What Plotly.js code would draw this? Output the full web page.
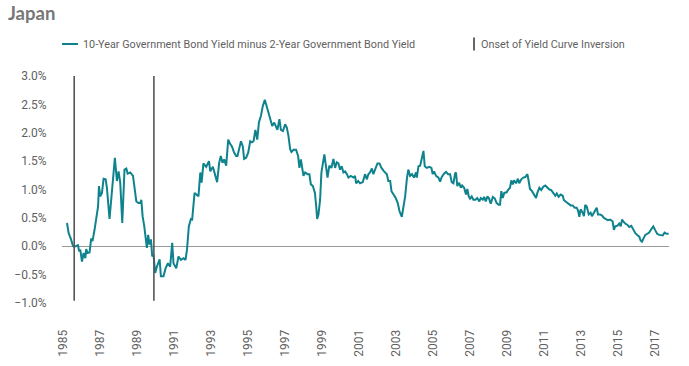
<!DOCTYPE html>
<html>
<head>
<meta charset="utf-8">
<script src="https://cdn.plot.ly/plotly-3.0.1.min.js"></script>
<style>html,body{margin:0;padding:0;background:#fff;}#chart{width:689px;height:366px;}</style>
</head>
<body>
<div id="chart"></div>
<script>
// Decimal-year dates of the readings
const years = [
1985.20,1985.29,1985.42,1985.52,1985.59,1985.70,1985.79,1985.86,1985.92,1986.01,1986.10,1986.19,1986.24,1986.31,1986.42,1986.51,1986.58,1986.69,1986.78,1986.88,1986.93,
1987.00,1987.09,1987.18,1987.29,1987.36,1987.50,1987.58,1987.69,1987.79,1987.90,1987.99,1988.08,1988.19,1988.31,1988.41,1988.48,1988.62,1988.77,1988.85,1988.95,
1989.07,1989.16,1989.22,1989.29,1989.38,1989.47,1989.52,1989.59,1989.66,1989.74,1989.81,1989.88,1989.97,1990.06,1990.21,1990.28,1990.42,1990.53,1990.66,1990.78,1990.89,1990.96,
1991.11,1991.23,1991.36,1991.50,1991.61,1991.69,1991.79,1991.90,1991.97,1992.10,1992.23,1992.31,1992.41,1992.48,1992.58,1992.73,1992.88,1992.95,
1993.09,1993.22,1993.32,1993.43,1993.52,1993.61,1993.70,1993.81,1993.92,1994.03,1994.12,1994.24,1994.35,1994.42,1994.53,1994.61,1994.71,1994.78,1994.89,
1995.00,1995.11,1995.20,1995.29,1995.39,1995.49,1995.58,1995.69,1995.79,1995.90,1996.01,1996.12,1996.23,1996.30,1996.41,1996.51,1996.58,1996.69,1996.77,1996.88,
1997.00,1997.09,1997.18,1997.27,1997.34,1997.45,1997.59,1997.70,1997.77,1997.85,1997.92,1997.99,1998.08,1998.21,1998.31,1998.39,1998.50,1998.61,1998.68,1998.73,1998.80,1998.89,1998.96,
1999.07,1999.12,1999.22,1999.29,1999.39,1999.50,1999.61,1999.70,1999.79,1999.88,1999.97,2000.06,2000.15,2000.24,2000.34,2000.42,2000.55,2000.69,2000.78,2000.84,2000.95,
2001.05,2001.20,2001.32,2001.42,2001.50,2001.59,2001.69,2001.77,2001.88,2001.99,2002.10,2002.21,2002.35,2002.50,2002.58,2002.68,2002.75,2002.86,2002.98,
2003.09,2003.18,2003.31,2003.39,2003.49,2003.58,2003.66,2003.76,2003.86,2003.97,2004.08,2004.12,2004.21,2004.30,2004.39,2004.48,2004.55,2004.66,2004.80,2004.91,2004.98,
2005.05,2005.16,2005.29,2005.38,2005.47,2005.59,2005.70,2005.81,2005.92,2006.01,2006.10,2006.19,2006.24,2006.31,2006.41,2006.50,2006.57,2006.68,2006.78,2006.85,2006.93,
2007.00,2007.09,2007.18,2007.29,2007.39,2007.50,2007.58,2007.69,2007.76,2007.85,2007.94,2008.03,2008.12,2008.23,2008.34,2008.44,2008.55,2008.62,2008.69,2008.77,2008.85,2008.98,
2009.07,2009.16,2009.23,2009.31,2009.38,2009.49,2009.59,2009.66,2009.77,2009.88,2009.99,2010.10,2010.17,2010.24,2010.35,2010.46,2010.57,2010.64,2010.75,2010.85,2010.96,
2011.07,2011.18,2011.29,2011.39,2011.50,2011.61,2011.69,2011.79,2011.90,2012.01,2012.08,2012.19,2012.31,2012.44,2012.55,2012.66,2012.77,2012.84,2012.91,2012.98,
2013.09,2013.16,2013.23,2013.31,2013.42,2013.52,2013.59,2013.70,2013.77,2013.85,2013.92,2014.03,2014.14,2014.24,2014.35,2014.46,2014.57,2014.64,2014.71,2014.78,2014.85,2014.96,
2015.07,2015.15,2015.22,2015.29,2015.39,2015.50,2015.61,2015.72,2015.83,2015.94,2016.04,2016.15,2016.23,2016.30,2016.37,2016.48,2016.58,2016.69,2016.80,2016.91,
2017.02,2017.12,2017.23,2017.34,2017.42,2017.52,2017.63,2017.74
];
// 10-year minus 2-year JGB yield, percent
const spread = [
0.41,0.23,0.12,0.01,-0.01,0.00,0.02,-0.09,-0.06,-0.27,-0.12,-0.21,-0.05,-0.12,-0.11,0.14,0.09,0.29,0.47,0.70,1.06,
0.88,0.94,1.19,1.18,1.03,0.48,0.82,1.24,1.56,1.15,1.32,1.12,0.41,1.35,1.37,1.28,1.30,1.24,1.06,0.79,
0.76,0.76,0.82,0.53,0.35,0.12,-0.03,0.20,0.03,0.12,-0.18,-0.15,-0.47,-0.36,-0.23,-0.53,-0.53,-0.39,-0.30,-0.36,0.06,-0.30,
-0.39,-0.18,-0.24,-0.21,-0.24,-0.06,0.35,0.48,0.47,0.94,0.91,0.88,1.30,1.12,1.46,1.40,1.50,1.32,
1.40,1.24,1.13,1.47,1.59,1.47,1.53,1.42,1.88,1.80,1.76,1.65,1.59,1.59,1.77,1.85,1.76,1.54,1.56,
1.65,1.85,1.83,1.85,2.05,1.88,2.18,2.30,2.47,2.58,2.45,2.29,2.18,2.12,2.18,2.12,2.05,2.24,2.05,2.03,
2.15,2.09,1.94,1.71,1.66,1.70,1.70,1.59,1.38,1.53,1.38,1.24,1.30,1.27,1.27,1.09,1.06,0.94,0.70,0.48,0.56,0.82,1.30,
1.59,1.62,1.38,1.21,1.42,1.38,1.54,1.38,1.48,1.46,1.35,1.41,1.30,1.32,1.27,1.21,1.24,1.21,1.24,1.11,1.15,
1.11,1.13,1.27,1.18,1.27,1.30,1.37,1.27,1.35,1.46,1.46,1.38,1.32,1.27,1.15,1.15,0.97,0.91,0.85,
0.76,0.62,0.52,0.70,0.88,1.18,1.35,1.24,1.27,1.21,1.30,1.21,1.41,1.42,1.56,1.68,1.41,1.38,1.40,1.38,1.27,
1.32,1.24,1.21,1.14,1.22,1.28,1.31,1.27,1.27,1.13,1.11,1.28,1.30,1.06,1.12,1.03,1.07,1.03,0.91,1.01,0.88,
0.84,0.88,0.82,0.82,0.85,0.79,0.85,0.82,0.87,0.79,0.88,0.84,0.75,0.87,0.84,0.76,0.73,0.73,0.97,0.85,0.94,0.95,
1.00,1.03,1.16,1.09,1.16,1.11,1.19,1.11,1.18,1.21,1.22,1.27,1.15,1.01,0.97,0.91,0.85,0.94,1.03,0.99,1.05,
1.07,1.03,1.00,0.99,0.94,0.89,0.93,0.87,0.91,0.89,0.81,0.78,0.75,0.72,0.72,0.68,0.68,0.63,0.52,0.65,
0.59,0.53,0.73,0.70,0.56,0.59,0.53,0.59,0.65,0.68,0.56,0.56,0.54,0.50,0.48,0.46,0.47,0.46,0.44,0.29,0.35,0.36,
0.40,0.35,0.47,0.44,0.40,0.38,0.34,0.36,0.28,0.23,0.20,0.17,0.10,0.08,0.13,0.20,0.22,0.24,0.30,0.35,
0.28,0.22,0.20,0.20,0.19,0.24,0.22,0.22
];
// Onset of yield curve inversion (decimal years)
const inversionOnsets = [1985.59, 1989.90];
const xTickYears = [1985,1987,1989,1991,1993,1995,1997,1999,2001,2003,2005,2007,2009,2011,2013,2015,2017];
const yTicks = [-1.0,-0.5,0.0,0.5,1.0,1.5,2.0,2.5,3.0];
const seriesName = '10-Year Government Bond Yield minus 2-Year Government Bond Yield';
const onsetName = 'Onset of Yield Curve Inversion';

const W = 689, H = 366;
const M = {l: 62, r: 20, t: 76, b: 63};
const PW = W - M.l - M.r, PH = H - M.t - M.b;
const px = x => (x - M.l) / PW;
const py = y => (H - M.b - y) / PH;

const LINE = '#0f838d';
const GREY = '#5f5f5f';
const FONT = 'Roboto, sans-serif';

const trace = {
  x: years, y: spread, type: 'scatter', mode: 'lines',
  line: {color: LINE, width: 2}, showlegend: false, hoverinfo: 'skip'
};

const shapes = inversionOnsets.map(v => ({
  type: 'line', xref: 'x', yref: 'y', x0: v, x1: v, y0: -0.96, y1: 3.07,
  line: {color: '#555555', width: 1.6}
}));
shapes.push({type: 'line', xref: 'paper', yref: 'paper', x0: px(62), x1: px(78), y0: py(44), y1: py(44),
  line: {color: LINE, width: 2}});
shapes.push({type: 'line', xref: 'paper', yref: 'paper', x0: px(474), x1: px(474), y0: py(37.5), y1: py(50.5),
  line: {color: '#666666', width: 2}});

const annotations = [
  {text: seriesName, xref: 'paper', yref: 'paper', x: px(81), y: py(44), xanchor: 'left', yanchor: 'middle',
   showarrow: false, font: {family: FONT, size: 10.8, color: GREY}},
  {text: onsetName, xref: 'paper', yref: 'paper', x: px(479), y: py(44), xanchor: 'left', yanchor: 'middle',
   showarrow: false, font: {family: FONT, size: 10.8, color: GREY}}
];

const layout = {
  width: W, height: H,
  margin: M,
  paper_bgcolor: '#ffffff', plot_bgcolor: '#ffffff',
  title: {text: '<b>Japan</b>', xref: 'container', yref: 'container', x: 8 / W, xanchor: 'left',
          y: 1 - 14 / H, yanchor: 'middle', font: {family: 'Lato, Open Sans, sans-serif', size: 18.5, color: '#777777'}},
  showlegend: false,
  xaxis: {
    type: 'linear', range: [1984.93, 2017.76],
    tickmode: 'array', tickvals: xTickYears, ticktext: xTickYears.map(String),
    tickangle: -90, ticks: 'outside', ticklen: 21, tickcolor: 'rgba(0,0,0,0)',
    showgrid: false, zeroline: false, showline: false,
    tickfont: {family: FONT, size: 12, color: GREY}
  },
  yaxis: {
    range: [-1.0, 3.0],
    tickmode: 'array', tickvals: yTicks, ticktext: yTicks.map(v => (v < 0 ? '\u2212' : '') + Math.abs(v).toFixed(1) + '%'),
    ticks: 'outside', ticklen: 12, tickcolor: 'rgba(0,0,0,0)',
    showgrid: false, zeroline: true, zerolinecolor: '#9a9a9a', zerolinewidth: 1.5, showline: false,
    tickfont: {family: FONT, size: 12, color: GREY}
  },
  shapes: shapes,
  annotations: annotations
};

Plotly.newPlot('chart', [trace], layout, {displayModeBar: false, staticPlot: true});
</script>
</body>
</html>
